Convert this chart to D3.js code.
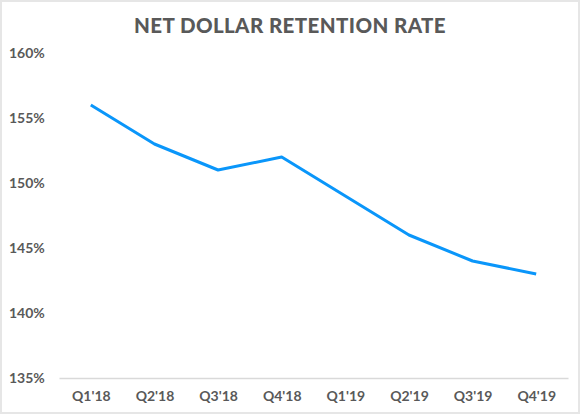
<!DOCTYPE html>
<html>
<head>
<meta charset="utf-8">
<script src="https://cdn.jsdelivr.net/npm/d3@7"></script>
<style>
  body { margin: 0; background: #fff; }
  svg { display: block; }
</style>
</head>
<body>
<svg id="chart" width="580" height="414"></svg>
<script>
// data
const quarters = ["Q1'18", "Q2'18", "Q3'18", "Q4'18", "Q1'19", "Q2'19", "Q3'19", "Q4'19"]
const retention = [156, 153, 151, 152, 149, 146, 144, 143]
const yTicks = [135, 140, 145, 150, 155, 160]
const title = 'NET DOLLAR RETENTION RATE'

const svg = d3.select('#chart')
const textColor = '#595959'
const fontFam = 'Lato, "Open Sans", sans-serif'

// outer frame
svg.append('rect')
    .attr('x', 1)
    .attr('y', 1)
    .attr('width', 578)
    .attr('height', 412)
    .attr('fill', '#fff')
    .attr('stroke', '#e6e6e6')
    .attr('stroke-width', 2)

let x = d3.scalePoint()
    .domain(quarters)
    .range([59, 568])
    .padding(0.5)

let y = d3.scaleLinear()
    .domain([135, 160])
    .range([378, 53])

svg.append('text')
    .attr('x', 290)
    .attr('y', 33)
    .attr('text-anchor', 'middle')
    .attr('font-family', fontFam)
    .attr('font-weight', 900)
    .attr('font-size', 20.5)
    .attr('letter-spacing', 0.4)
    .attr('fill', textColor)
    .text(title)

// y labels, left aligned at the frame edge
svg.append('g')
    .selectAll('text')
    .data(yTicks)
    .enter()
    .append('text')
    .attr('x', 9)
    .attr('y', d => y(d) + 5)
    .attr('font-family', fontFam)
    .attr('font-weight', 700)
    .attr('font-size', 14)
    .attr('fill', textColor)
    .text(d => d + '%')

// baseline + category labels
let xAxis = svg.append('g')
    .attr('transform', 'translate(0,' + y(135) + ')')
    .call(d3.axisBottom(x).tickSize(0).tickPadding(13))
xAxis.select('.domain')
    .attr('stroke', '#d9d9d9')
    .attr('stroke-width', 1.5)
xAxis.selectAll('text')
    .attr('font-family', fontFam)
    .attr('font-weight', 700)
    .attr('font-size', 14)
    .attr('fill', textColor)

let line = d3.line()
    .x((d, i) => x(quarters[i]))
    .y(d => y(d))

svg.append('path')
    .datum(retention)
    .attr('fill', 'none')
    .attr('stroke', '#0a96fa')
    .attr('stroke-width', 3)
    .attr('stroke-linejoin', 'round')
    .attr('d', line)
</script>
</body>
</html>
